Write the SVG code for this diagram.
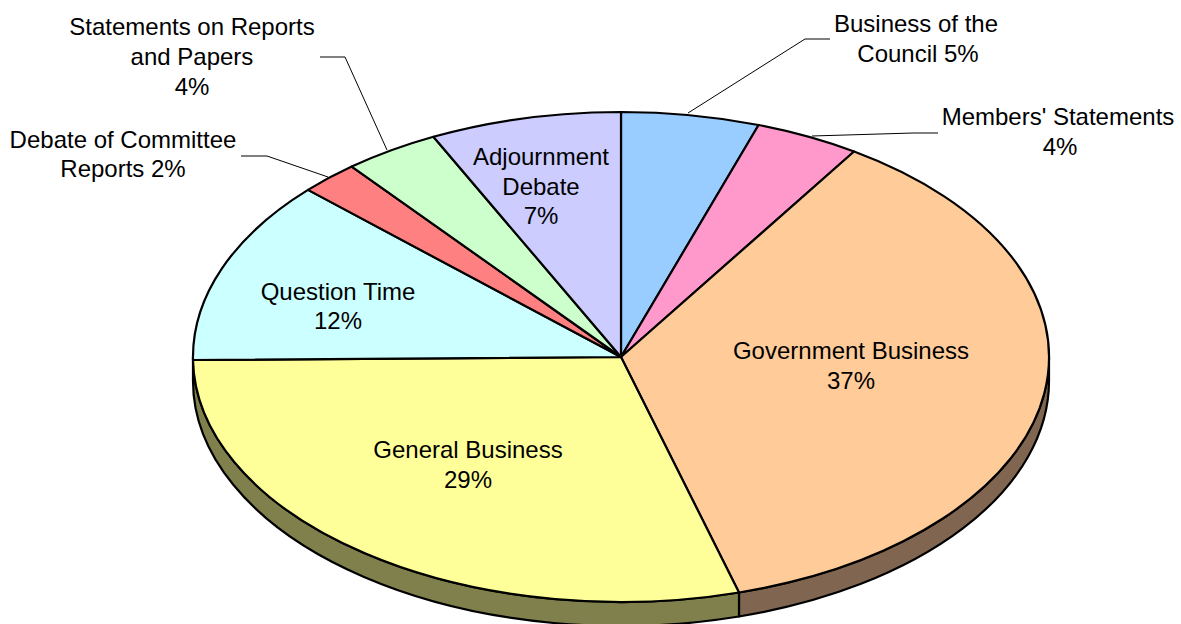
<svg xmlns="http://www.w3.org/2000/svg" width="1181" height="624" viewBox="0 0 1181 624">
<style>
.s{stroke:#000;stroke-width:2.2;stroke-linejoin:round}
.l{fill:none;stroke:#000;stroke-width:1}
text{font-family:"Liberation Sans",Arial,sans-serif;font-size:24px;fill:#000;text-anchor:middle}
</style>
<rect width="1181" height="624" fill="#fff"/>
<g id="sides">
<path class="s" fill="#806650" d="M1049,357 A428,245 0 0 1 739,592.5 L739,616.5 A428,245 0 0 0 1049,381 Z"/>
<path class="s" fill="#80804C" d="M739,592.5 A428,245 0 0 1 193,357 L193,381 A428,245 0 0 0 739,616.5 Z"/>
</g>
<g id="council"><path class="s" fill="#99CCFF" d="M621,357 L621,112 A428,245 0 0 1 758.6,125 Z"/></g>
<g id="members"><path class="s" fill="#FF99CC" d="M621,357 L758.6,125 A428,245 0 0 1 854.1,151.5 Z"/></g>
<g id="government"><path class="s" fill="#FFCC99" d="M621,357 L854.1,151.5 A428,245 0 0 1 739,592.5 Z"/>
<text x="851" y="359">Government Business</text><text x="851" y="389">37%</text></g>
<g id="general"><path class="s" fill="#FFFF99" d="M621,357 L739,592.5 A428,245 0 0 1 193,360 Z"/>
<text x="468" y="458">General Business</text><text x="468" y="488">29%</text></g>
<g id="question"><path class="s" fill="#CCFFFF" d="M621,357 L193,360 A428,245 0 0 1 308,189.9 Z"/>
<text x="338" y="300">Question Time</text><text x="338" y="329">12%</text></g>
<g id="committee"><path class="s" fill="#FF8080" d="M621,357 L308,189.9 A428,245 0 0 1 351.7,166.6 Z"/></g>
<g id="statements"><path class="s" fill="#CCFFCC" d="M621,357 L351.7,166.6 A428,245 0 0 1 433.4,136.8 Z"/></g>
<g id="adjournment"><path class="s" fill="#CCCCFF" d="M621,357 L433.4,136.8 A428,245 0 0 1 621,112 Z"/>
<text x="541" y="165">Adjournment</text><text x="541" y="195">Debate</text><text x="541" y="224">7%</text></g>
<g id="connectors">
<polyline class="l" points="688,113 805,39 830,39"/>
<polyline class="l" points="812,136 913,133 938,133"/>
<polyline class="l" points="387,150 345,57 320,57"/>
<polyline class="l" points="328,177 267,156 241,156"/>
</g>
<g id="labels">
<text x="916" y="32">Business of the</text><text x="918" y="62">Council 5%</text>
<text x="1058" y="125">Members' Statements</text><text x="1060" y="155">4%</text>
<text x="192" y="35">Statements on Reports</text><text x="192" y="65">and Papers</text><text x="192" y="95">4%</text>
<text x="123" y="148">Debate of Committee</text><text x="123" y="177">Reports 2%</text>
</g>
</svg>
